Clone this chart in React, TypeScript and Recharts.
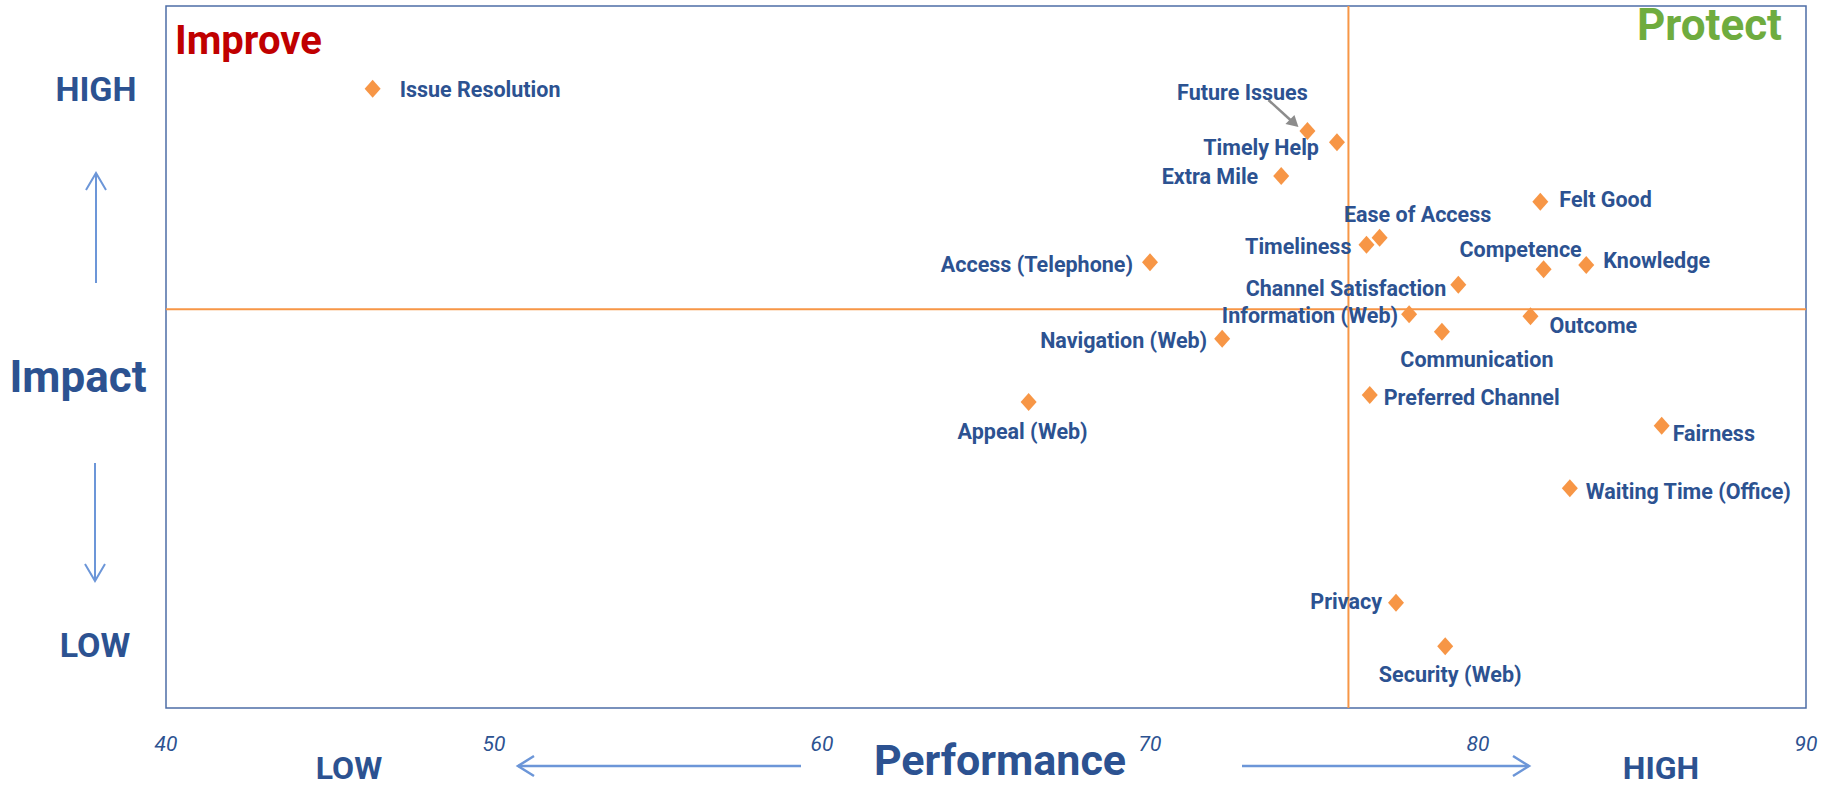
import { ScatterChart, Scatter, XAxis, YAxis, ReferenceLine, ReferenceArea, Customized } from 'recharts';

// drivers, performance score (x) and impact (y, relative 0-100)
const drivers = [
  'Issue Resolution',
  'Future Issues',
  'Timely Help',
  'Extra Mile',
  'Felt Good',
  'Ease of Access',
  'Timeliness',
  'Competence',
  'Knowledge',
  'Access (Telephone)',
  'Channel Satisfaction',
  'Information (Web)',
  'Outcome',
  'Communication',
  'Navigation (Web)',
  'Preferred Channel',
  'Appeal (Web)',
  'Fairness',
  'Waiting Time (Office)',
  'Privacy',
  'Security (Web)',
];
const performance = [
  46.3, 74.8, 75.7, 74.0, 81.9, 77.0, 76.6, 82.0, 83.3, 70.0, 79.4,
  77.9, 81.6, 78.9, 72.2, 76.7, 66.3, 85.6, 82.8, 77.5, 79.0,
];
const impact = [
  88.2, 82.2, 80.6, 75.8, 72.1, 67.0, 66.0, 62.5, 63.1, 63.5, 60.3,
  56.1, 55.8, 53.6, 52.6, 44.6, 43.6, 40.2, 31.3, 15.0, 8.8,
];
const xTicks = [40, 50, 60, 70, 80, 90];
const performanceCut = 76.05;
const impactCut = 56.8;

const data = drivers.map((name, i) => ({ name, performance: performance[i], impact: impact[i] }));

const BLUE = '#2C5291';
const ORANGE = '#F79646';
const ARROW = '#6C96D8';
const FONT = 'Roboto, "Open Sans", sans-serif';

// where each label sits relative to its marker
const placement: Record<string, { anchor: 'start' | 'middle' | 'end'; dx: number; dy: number }> = {
  'Issue Resolution': { anchor: 'start', dx: 27, dy: 1 },
  'Future Issues': { anchor: 'middle', dx: -65, dy: -38 },
  'Timely Help': { anchor: 'end', dx: -18, dy: 5 },
  'Extra Mile': { anchor: 'end', dx: -23, dy: 1 },
  'Felt Good': { anchor: 'start', dx: 19, dy: -2 },
  'Ease of Access': { anchor: 'middle', dx: 38, dy: -23 },
  'Timeliness': { anchor: 'end', dx: -15, dy: 2 },
  'Competence': { anchor: 'middle', dx: -23, dy: -20 },
  'Knowledge': { anchor: 'start', dx: 17, dy: -5 },
  'Access (Telephone)': { anchor: 'end', dx: -17, dy: 2 },
  'Channel Satisfaction': { anchor: 'end', dx: -12, dy: 4 },
  'Information (Web)': { anchor: 'end', dx: -11, dy: 1 },
  'Outcome': { anchor: 'start', dx: 19, dy: 9 },
  'Communication': { anchor: 'middle', dx: 35, dy: 28 },
  'Navigation (Web)': { anchor: 'end', dx: -15, dy: 2 },
  'Preferred Channel': { anchor: 'start', dx: 14, dy: 3 },
  'Appeal (Web)': { anchor: 'middle', dx: -6, dy: 30 },
  'Fairness': { anchor: 'start', dx: 11, dy: 8 },
  'Waiting Time (Office)': { anchor: 'start', dx: 16, dy: 3 },
  'Privacy': { anchor: 'end', dx: -14, dy: -1 },
  'Security (Web)': { anchor: 'middle', dx: 5, dy: 28 },
};

function DiamondLabel(props: any) {
  const { cx, cy, payload } = props;
  const p = placement[payload.name] ?? { anchor: 'start', dx: 14, dy: 0 };
  return (
    <g>
      <path d={`M${cx},${cy - 9} L${cx + 8},${cy} L${cx},${cy + 9} L${cx - 8},${cy} Z`} fill={ORANGE} />
      {payload.name === 'Future Issues' && (
        <g>
          <line x1={cx - 39} y1={cy - 31} x2={cx - 17} y2={cy - 11} stroke="#8C8C8C" strokeWidth={2.5} />
          <path d={`M${cx - 9},${cy - 4} L${cx - 22},${cy - 7} L${cx - 13},${cy - 16} Z`} fill="#8C8C8C" />
        </g>
      )}
      <text
        x={cx + p.dx}
        y={cy + p.dy}
        textAnchor={p.anchor}
        dominantBaseline="central"
        fill={BLUE}
        fontFamily={FONT}
        fontWeight={700}
        fontSize={21.5}
      >
        {payload.name}
      </text>
    </g>
  );
}

function PerfTick(props: any) {
  const { x, y, payload } = props;
  return (
    <text x={x} y={y + 41} textAnchor="middle" fill={BLUE} fontFamily={FONT} fontStyle="italic" fontSize={21}>
      {payload.value}
    </text>
  );
}

function Decorations() {
  const big = { fill: BLUE, fontFamily: FONT, fontWeight: 700, textAnchor: 'middle' as const };
  return (
    <g>
      <text x={175} y={54} fill="#C00000" fontFamily={FONT} fontWeight={700} fontSize={40}>Improve</text>
      <text x={1782} y={40} fill="#6FAC3F" fontFamily={FONT} fontWeight={700} fontSize={44} textAnchor="end">Protect</text>

      <text {...big} x={96} y={101} fontSize={34}>HIGH</text>
      <text {...big} x={78} y={392} fontSize={44}>Impact</text>
      <text {...big} x={95} y={657} fontSize={34}>LOW</text>
      <line x1={96} y1={283} x2={96} y2={173} stroke={ARROW} strokeWidth={2} />
      <polyline points="86,190 96,173 106,190" fill="none" stroke={ARROW} strokeWidth={2} />
      <line x1={95} y1={463} x2={95} y2={581} stroke={ARROW} strokeWidth={2} />
      <polyline points="85,564 95,581 105,564" fill="none" stroke={ARROW} strokeWidth={2} />

      <text {...big} x={349} y={779} fontSize={32}>LOW</text>
      <text {...big} x={1000} y={775} fontSize={43}>Performance</text>
      <text {...big} x={1661} y={779} fontSize={32}>HIGH</text>
      <line x1={518} y1={766} x2={801} y2={766} stroke={ARROW} strokeWidth={2.5} />
      <polyline points="534,756 518,766 534,776" fill="none" stroke={ARROW} strokeWidth={2.5} />
      <line x1={1242} y1={766} x2={1529} y2={766} stroke={ARROW} strokeWidth={2.5} />
      <polyline points="1513,756 1529,766 1513,776" fill="none" stroke={ARROW} strokeWidth={2.5} />
    </g>
  );
}

export default function App() {
  return (
    <div style={{ width: 1829, height: 787, background: '#fff' }}>
      <style>{'body{margin:0}'}</style>
      <ScatterChart width={1829} height={787} margin={{ top: 6, right: 23, bottom: 39, left: 166 }}>
        <XAxis
          type="number"
          dataKey="performance"
          domain={[40, 90]}
          ticks={xTicks}
          tickLine={false}
          axisLine={false}
          tickSize={0}
          height={40}
          tick={<PerfTick />}
          allowDataOverflow
        />
        <YAxis type="number" dataKey="impact" domain={[0, 100]} hide allowDataOverflow />
        <ReferenceArea x1={40} x2={90} y1={0} y2={100} fill="none" stroke="#4E6EA6" strokeWidth={1.5} />
        <ReferenceLine x={performanceCut} stroke={ORANGE} strokeWidth={2} />
        <ReferenceLine y={impactCut} stroke={ORANGE} strokeWidth={2} />
        <Scatter data={data} shape={<DiamondLabel />} isAnimationActive={false} />
        <Customized component={<Decorations />} />
      </ScatterChart>
    </div>
  );
}
